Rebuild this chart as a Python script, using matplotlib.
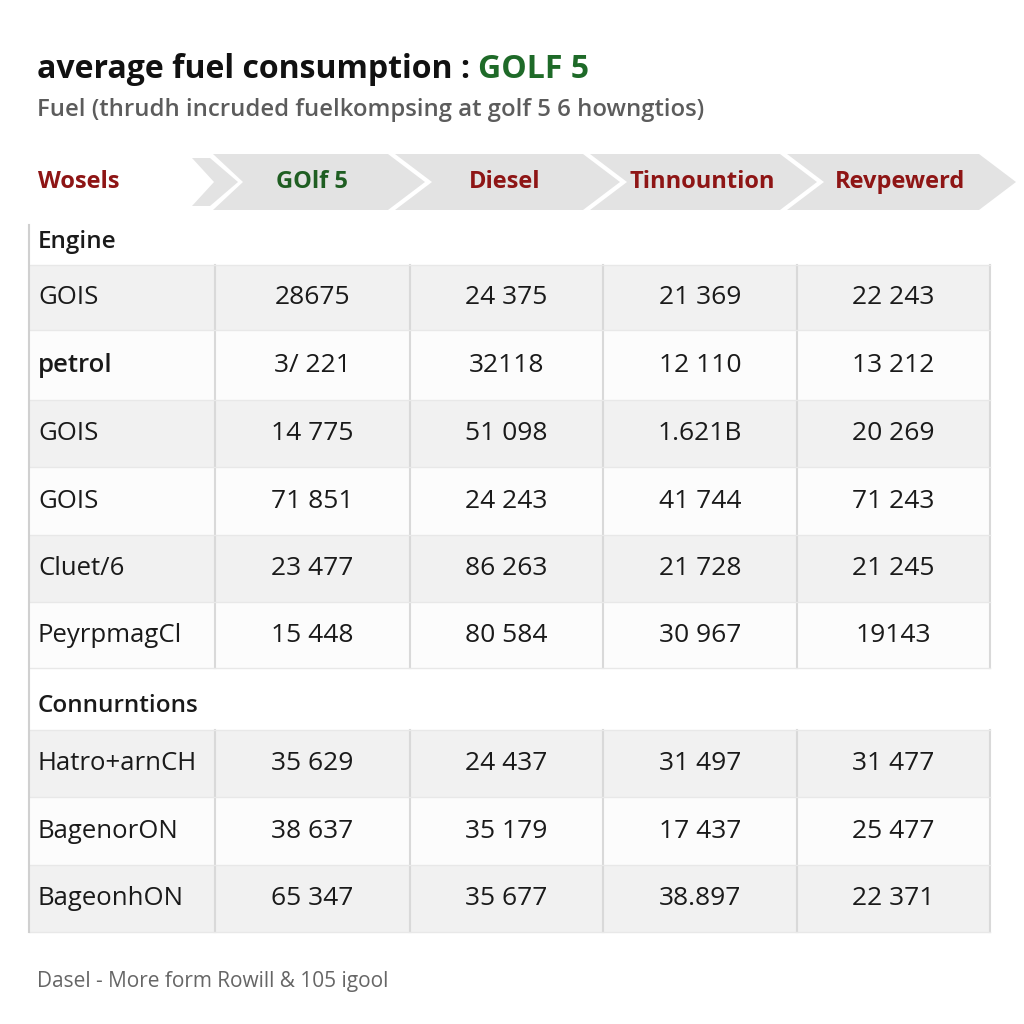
import matplotlib
matplotlib.use("Agg")
import matplotlib.pyplot as plt
from matplotlib.patches import Polygon, Rectangle

plt.rcParams['font.family'] = ['Open Sans', 'DejaVu Sans']

# ---- data ----
title_main = "average fuel consumption :"
title_accent = "GOLF 5"
subtitle = "Fuel (thrudh incruded fuelkompsing at golf 5 6 howngtios)"
corner_label = "Wosels"
columns = ["GOlf 5", "Diesel", "Tinnountion", "Revpewerd"]
column_colors = ["#1f5e22", "#8e1515", "#8e1515", "#8e1515"]

section1 = "Engine"
rows1 = ["GOIS", "petrol", "GOIS", "GOIS", "Cluet/6", "PeyrpmagCl"]
vals1 = [
    ["28675", "24 375", "21 369", "22 243"],
    ["3/ 221", "32118", "12 110", "13 212"],
    ["14 775", "51 098", "1.621B", "20 269"],
    ["71 851", "24 243", "41 744", "71 243"],
    ["23 477", "86 263", "21 728", "21 245"],
    ["15 448", "80 584", "30 967", "19143"],
]
section2 = "Connurntions"
rows2 = ["Hatro+arnCH", "BagenorON", "BageonhON"]
vals2 = [
    ["35 629", "24 437", "31 497", "31 477"],
    ["38 637", "35 179", "17 437", "25 477"],
    ["65 347", "35 677", "38.897", "22 371"],
]
footnote = "Dasel - More form Rowill & 105 igool"

# ---- layout ----
fig = plt.figure(figsize=(10.24, 10.24), dpi=100)
fig.patch.set_facecolor("white")
ax = fig.add_axes([0, 0, 1, 1])
ax.set_xlim(0, 1024)
ax.set_ylim(1024, 0)
ax.axis("off")

col_edges = [29, 215, 410, 603, 797, 990]
centers = [(col_edges[i + 1] + col_edges[i + 2]) / 2 for i in range(4)]
label_x = 38

# title
t1 = ax.text(37, 78, title_main, fontsize=23, fontweight="bold", color="#111111",
             va="baseline", ha="left")
fig.canvas.draw()
bb = t1.get_window_extent()
xr = ax.transData.inverted().transform((bb.x1, bb.y0))[0]
ax.text(xr + 8, 78, title_accent, fontsize=23, fontweight="bold", color="#1e6a28",
        va="baseline", ha="left")
ax.text(37, 116, subtitle, fontsize=17.2, fontweight="semibold", color="#5c5c5c",
        va="baseline", ha="left")

# chevron header
chev_fill = "#e3e3e3"
ax.add_patch(Polygon([(192, 158), (210, 158), (238, 182), (210, 206), (192, 206), (214, 182)],
                     closed=True, facecolor=chev_fill, edgecolor="none"))
tips = [425, 620, 817, 1016]
top, mid, bot = 154, 182, 210
label_centers = [312, 505, 702, 900]
for i in range(4):
    left = 213 if i == 0 else tips[i - 1] - 30
    notch = left + (30 if i == 0 else 37)
    rt = tips[i] - 37
    poly = [(left, top), (rt, top), (tips[i], mid), (rt, bot), (left, bot), (notch, mid)]
    ax.add_patch(Polygon(poly, closed=True, facecolor=chev_fill, edgecolor="none"))
    ax.text(label_centers[i], mid, columns[i], fontsize=17, fontweight="bold",
            color=column_colors[i], ha="center", va="center")
ax.text(label_x, mid, corner_label, fontsize=17, fontweight="bold", color="#8e1515",
        ha="left", va="center")

# table
shade = "#f1f1f1"
plain = "#fcfcfc"
grid = "#d9d9d9"


def draw_section(label, label_y, row_edges, labels, values):
    ax.text(label_x, label_y, label, fontsize=17.5, fontweight="semibold", color="#1a1a1a",
            ha="left", va="center")
    for r in range(len(labels)):
        y0, y1 = row_edges[r], row_edges[r + 1]
        ax.add_patch(Rectangle((col_edges[0], y0), col_edges[-1] - col_edges[0], y1 - y0,
                               facecolor=shade if r % 2 == 0 else plain, edgecolor="none"))
        yc = (y0 + y1) / 2
        ax.text(label_x, yc, labels[r], fontsize=18.5, color="#1a1a1a", ha="left", va="center",
                fontweight="semibold" if labels[r] == "petrol" else "normal")
        for c in range(4):
            ax.text(centers[c], yc, values[r][c], fontsize=19, color="#1a1a1a",
                    ha="center", va="center")
    for x in col_edges[1:]:
        ax.plot([x, x], [row_edges[0], row_edges[-1]], color=grid, lw=1.5)
    for y in row_edges:
        ax.plot([col_edges[0], col_edges[-1]], [y, y], color="#e8e8e8", lw=1.0)


draw_section(section1, 242, [265, 330, 400, 467, 535, 602, 668], rows1, vals1)
draw_section(section2, 706, [730, 797, 865, 932], rows2, vals2)

# left border
ax.plot([29, 29], [225, 932], color="#d0d0d0", lw=1.5)

ax.text(37, 987, footnote, fontsize=15, color="#666666", ha="left", va="baseline")

fig.savefig("out.png", dpi=100, facecolor="white")
